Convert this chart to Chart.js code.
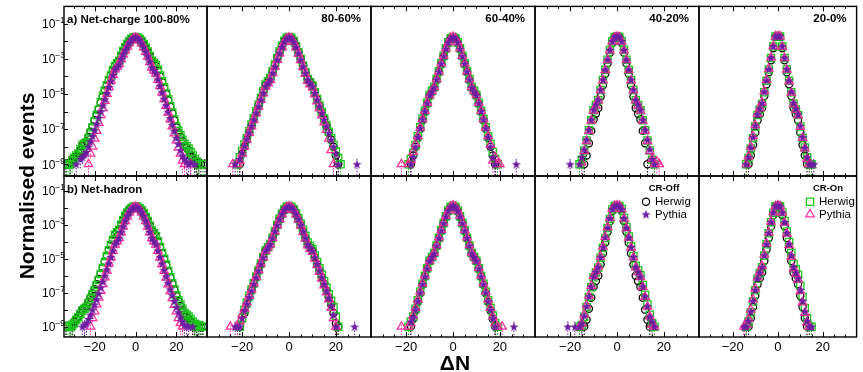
<!DOCTYPE html>
<html>
<head>
<meta charset="utf-8">
<title>Net-charge and net-hadron ΔN distributions</title>
<script src="https://cdn.jsdelivr.net/npm/chart.js"></script>
<style>
  html, body { margin: 0; padding: 0; background: #fff; }
  #wrap { position: relative; width: 863px; height: 372px; overflow: hidden; }
  #wrap canvas { position: absolute; left: 0; top: 0; }
</style>
</head>
<body>
<div id="wrap"></div>
<script>
const _ = null;  // empty bin

// ΔN axis (all panels)
const dnMin = -35, dnMax = 35;
const dnStart = [-35, -26, -22, -21, -16];   // first ΔN of the arrays in each column
const xTicks = [-30, -25, -20, -15, -10, -5, 0, 5, 10, 15, 20, 25, 30];
const xTickLabels = [-20, 0, 20];
// log axis, in decades
const yDecades = [-1, -2, -3, -4, -5, -6, -7, -8, -9];
const yLabelDecades = [-1, -3, -5, -7, -9];
const rowLogRange = [[-9.67, -0.01], [-9.61, -0.135]];

const centralities = ['100-80%', '80-60%', '60-40%', '40-20%', '20-0%'];
const rowNames = ['a) Net-charge', 'b) Net-hadron'];
const legendGroups = ['CR-Off', 'CR-On'];
const seriesNames = ['Herwig', 'Pythia', 'Herwig', 'Pythia'];

// log10(normalised events), one value per integer ΔN
// row a: net-charge
const a1HwOff = [_, -9.0, _, -8.9, -8.7, -8.6, -8.55, -8.35, -8.2, -7.95, -7.82, -7.7, -7.45, -7.15, -6.85, -6.5, -6.2, -5.85, -5.5, -5.15, -4.8, -4.5, -4.2, -3.92, -3.65, -3.38, -3.24, -3.1, -2.82, -2.56, -2.34, -2.15, -1.99, -1.87, -1.79,
  -1.76,
  -1.79, -1.87, -1.99, -2.16, -2.36, -2.6, -2.85, -3.12, -3.26, -3.4, -3.68, -4.0, -4.32, -4.65, -5.0, -5.35, -5.72, -6.1, -6.5, -6.9, -7.2, -7.45, -7.7, -7.95, -8.08, -8.2, -8.5, -8.6, -8.8, -9.0, -8.9, -9.0, _, -9.0, _];
const a1PyOff = [_, _, _, _, _, _, -9.0, _, -8.7, -8.6, -8.45, -8.3, -8.0, -7.7, -7.4, -7.05, -6.7, -6.35, -6.0, -5.65, -5.3, -4.95, -4.6, -4.25, -3.92, -3.6, -3.45, -3.3, -3.0, -2.74, -2.5, -2.28, -2.08, -1.92, -1.81,
  -1.77,
  -1.81, -1.93, -2.1, -2.32, -2.57, -2.85, -3.15, -3.48, -3.65, -3.82, -4.17, -4.53, -4.9, -5.27, -5.64, -6.0, -6.38, -6.75, -7.1, -7.5, -7.85, -8.2, -8.5, -8.7, -8.85, -9.0, -8.9, _, -9.0, _, _, _, _, _, _];
const a1HwOn = [_, -9.0, -9.0, -9.0, -8.8, -8.65, -8.5, -8.4, -8.15, -7.9, -7.82, -7.75, -7.5, -7.2, -6.9, -6.55, -6.2, -5.9, -5.45, -5.1, -4.8, -4.5, -4.2, -3.95, -3.65, -3.4, -3.25, -3.1, -2.8, -2.55, -2.33, -2.14, -1.98, -1.86, -1.78,
  -1.75,
  -1.78, -1.86, -1.98, -2.15, -2.35, -2.58, -2.83, -3.1, -3.22, -3.35, -3.62, -3.95, -4.28, -4.62, -4.97, -5.3, -5.7, -6.05, -6.45, -6.85, -7.1, -7.35, -7.6, -7.85, -7.97, -8.1, -8.3, -8.5, -8.7, -8.85, -9.0, _, -9.0, _, _];
const a1PyOn = [_, _, _, _, _, _, _, _, _, _, _, _, -9.0, -8.4, -8.0, -7.55, -7.1, -6.65, -6.2, -5.8, -5.4, -5.0, -4.62, -4.26, -3.92, -3.6, -3.45, -3.3, -3.02, -2.76, -2.52, -2.3, -2.1, -1.94, -1.83,
  -1.79,
  -1.83, -1.95, -2.12, -2.34, -2.6, -2.88, -3.18, -3.5, -3.67, -3.84, -4.2, -4.56, -4.93, -5.3, -5.68, -6.06, -6.45, -6.85, -7.25, -7.65, -8.05, -8.4, -8.8, -9.0, _, _, -9.0, _, _, _, _, _, _, _, _];

const a2HwOff = [_, _, _, _, _, -9.0, -8.4, -8.0, -7.6, -7.2, -6.8, -6.42, -6.03, -5.65, -5.26, -4.88, -4.5, -4.31, -4.12, -3.73, -3.35, -2.97, -2.6, -2.26, -1.98, -1.81,
  -1.76,
  -1.81, -1.99, -2.28, -2.63, -3.01, -3.39, -3.77, -4.15, -4.34, -4.53, -4.92, -5.3, -5.68, -6.06, -6.44, -6.82, -7.2, -7.6, -8.0, -8.5, -9.0, _, _, _, _, _, _, _, _];
const a2PyOff = [_, _, _, -9.0, _, -8.7, -8.35, -7.95, -7.57, -7.2, -6.82, -6.45, -6.07, -5.7, -5.32, -4.94, -4.56, -4.37, -4.18, -3.8, -3.42, -3.04, -2.67, -2.32, -2.02, -1.83,
  -1.77,
  -1.83, -2.02, -2.32, -2.67, -3.04, -3.42, -3.8, -4.18, -4.37, -4.56, -4.94, -5.32, -5.7, -6.08, -6.46, -6.84, -7.22, -7.6, -8.0, -8.4, -9.0, _, _, _, _, _, _, _, -9.0];
const a2HwOn = [_, _, _, _, -9.0, -8.6, -8.25, -7.88, -7.5, -7.12, -6.74, -6.36, -5.98, -5.6, -5.22, -4.84, -4.46, -4.27, -4.08, -3.7, -3.32, -2.95, -2.58, -2.25, -1.97, -1.8,
  -1.75,
  -1.8, -1.98, -2.27, -2.62, -3.0, -3.38, -3.76, -4.14, -4.33, -4.52, -4.9, -5.28, -5.65, -6.02, -6.4, -6.78, -7.15, -7.52, -7.9, -8.28, -8.65, -9.0, _, _, _, _, _, _, _];
const a2PyOn = [_, _, -9.0, _, -9.0, -8.8, -8.4, -8.0, -7.6, -7.22, -6.85, -6.48, -6.1, -5.72, -5.34, -4.96, -4.58, -4.39, -4.2, -3.82, -3.44, -3.06, -2.69, -2.34, -2.03, -1.84,
  -1.78,
  -1.84, -2.04, -2.35, -2.7, -3.08, -3.47, -3.86, -4.25, -4.45, -4.64, -5.03, -5.42, -5.82, -6.22, -6.62, -7.05, -7.55, -8.2, -9.0, _, _, _, _, _, _, _, _, _, _];

const a3HwOff = [_, _, _, _, -9.0, -8.5, -8.0, -7.5, -7.0, -6.5, -6.02, -5.55, -5.1, -4.88, -4.65, -4.2, -3.75, -3.3, -2.86, -2.44, -2.08, -1.84,
  -1.76,
  -1.84, -2.08, -2.44, -2.86, -3.3, -3.75, -4.2, -4.65, -4.88, -5.1, -5.55, -6.02, -6.5, -7.0, -7.5, -8.0, -8.5, -9.0, _, _, _, _, _, _, _, _, _];
const a3PyOff = [_, _, _, _, -9.0, -8.6, -8.0, -7.45, -6.95, -6.45, -5.98, -5.52, -5.07, -4.85, -4.62, -4.17, -3.72, -3.27, -2.84, -2.42, -2.06, -1.83,
  -1.76,
  -1.83, -2.06, -2.42, -2.84, -3.27, -3.72, -4.17, -4.62, -4.85, -5.07, -5.52, -5.98, -6.45, -6.95, -7.45, -8.0, -8.6, -9.0, _, _, _, _, _, _, _, _, -9.0];
const a3HwOn = [_, _, _, -9.0, -8.7, -8.35, -7.9, -7.4, -6.9, -6.4, -5.95, -5.5, -5.05, -4.82, -4.6, -4.15, -3.7, -3.25, -2.82, -2.4, -2.05, -1.82,
  -1.75,
  -1.82, -2.05, -2.4, -2.82, -3.25, -3.7, -4.15, -4.6, -4.82, -5.05, -5.5, -5.95, -6.42, -6.9, -7.4, -7.85, -8.3, -8.7, -9.0, _, _, _, _, _, _, _, _];
const a3PyOn = [-9.0, _, _, -9.0, -8.75, -8.3, -7.85, -7.4, -6.92, -6.44, -5.97, -5.51, -5.06, -4.84, -4.61, -4.16, -3.71, -3.26, -2.83, -2.41, -2.05, -1.82,
  -1.75,
  -1.82, -2.05, -2.41, -2.83, -3.26, -3.71, -4.16, -4.61, -4.84, -5.06, -5.51, -5.97, -6.44, -6.92, -7.4, -7.9, -8.8, -8.6, -9.0, -9.0, _, _, _, _, _, _, _];

const a4HwOff = [_, _, _, _, _, _, _, -9.0, -8.5, -7.8, -7.1, -6.45, -6.12, -5.8, -5.15, -4.5, -3.85, -3.25, -2.65, -2.1, -1.78,
  -1.73,
  -1.78, -2.1, -2.65, -3.25, -3.85, -4.5, -5.15, -5.8, -6.12, -6.45, -7.1, -7.8, -9.0, _, _, _, _, _];
const a4PyOff = [_, -9.0, _, _, _, -9.0, -8.6, -8.15, -7.6, -7.03, -6.46, -5.89, -5.6, -5.32, -4.75, -4.18, -3.6, -3.03, -2.48, -1.99, -1.74,
  -1.71,
  -1.74, -1.99, -2.48, -3.03, -3.6, -4.18, -4.75, -5.32, -5.6, -5.89, -6.46, -7.03, -7.6, -8.15, -8.7, -9.0, _, _];
const a4HwOn = [_, _, _, _, _, -9.0, -8.75, -8.22, -7.65, -7.07, -6.5, -5.92, -5.63, -5.35, -4.77, -4.2, -3.62, -3.05, -2.5, -2.0, -1.75,
  -1.72,
  -1.75, -2.0, -2.5, -3.05, -3.62, -4.2, -4.77, -5.35, -5.63, -5.92, -6.5, -7.07, -7.65, -8.22, -8.75, -9.0, _, _];
const a4PyOn = [_, _, _, _, _, _, -8.9, -8.25, -7.68, -7.1, -6.52, -5.95, -5.66, -5.37, -4.8, -4.22, -3.64, -3.07, -2.52, -2.02, -1.76,
  -1.73,
  -1.76, -2.02, -2.52, -3.07, -3.64, -4.22, -4.8, -5.37, -5.66, -5.95, -6.52, -7.1, -7.68, -8.25, -8.7, -9.0, -8.85, -9.0];

const a5HwOff = [_, _, _, -9.0, -8.5, -7.9, -7.2, -6.5, -6.15, -5.8, -5.12, -4.44, -3.76, -3.08, -2.4, -1.75,
  -1.71,
  -1.75, -2.4, -3.08, -3.76, -4.44, -5.12, -5.8, -6.15, -6.5, -7.2, -7.9, -8.5, -9.0, _, _, _, _];
const a5PyOff = [_, _, -9.0, -8.6, -8.05, -7.45, -6.8, -6.15, -5.82, -5.5, -4.86, -4.22, -3.58, -2.93, -2.28, -1.71,
  -1.69,
  -1.71, -2.28, -2.93, -3.58, -4.22, -4.86, -5.5, -5.82, -6.15, -6.8, -7.45, -8.05, -8.6, -9.0, -9.0, -9.0, _];
const a5HwOn = [_, _, -9.0, -8.65, -8.1, -7.5, -6.85, -6.2, -5.88, -5.55, -4.9, -4.25, -3.6, -2.95, -2.3, -1.72,
  -1.7,
  -1.72, -2.3, -2.95, -3.6, -4.25, -4.9, -5.55, -5.88, -6.2, -6.85, -7.5, -8.05, -8.6, -9.0, -9.0, _, _];
const a5PyOn = [_, _, -9.0, -8.55, -8.0, -7.4, -6.78, -6.13, -5.8, -5.48, -4.84, -4.2, -3.56, -2.92, -2.27, -1.72,
  -1.7,
  -1.72, -2.3, -2.96, -3.62, -4.28, -4.93, -5.58, -5.9, -6.22, -6.87, -7.5, -8.1, -8.7, -9.0, _, _, _];

// row b: net-hadron
const b1HwOff = [_, -9.0, _, -8.9, -9.0, -8.7, -8.55, -8.4, -8.2, -8.0, -7.9, -7.8, -7.55, -7.3, -7.05, -6.8, -6.5, -6.2, -5.87, -5.53, -5.18, -4.83, -4.49, -4.18, -3.88, -3.58, -3.43, -3.29, -3.0, -2.73, -2.49, -2.29, -2.14, -2.03, -1.96,
  -1.93,
  -1.96, -2.04, -2.16, -2.33, -2.54, -2.79, -3.07, -3.37, -3.52, -3.68, -4.0, -4.34, -4.68, -5.03, -5.38, -5.75, -6.12, -6.48, -6.84, -7.2, -7.5, -7.78, -8.05, -8.3, -8.4, -8.5, -8.7, -8.8, -9.0, -8.85, -9.0, -9.0, -9.0, _, _];
const b1PyOff = [_, _, _, _, _, _, _, _, _, -9.0, -8.9, -8.8, -8.55, -8.3, -8.0, -7.7, -7.38, -7.05, -6.7, -6.35, -6.0, -5.64, -5.27, -4.9, -4.52, -4.15, -3.97, -3.79, -3.43, -3.09, -2.77, -2.49, -2.26, -2.09, -1.98,
  -1.94,
  -1.98, -2.09, -2.26, -2.49, -2.77, -3.09, -3.43, -3.79, -3.97, -4.15, -4.52, -4.9, -5.28, -5.66, -6.04, -6.42, -6.8, -7.15, -7.5, -7.85, -8.15, -8.45, -8.7, -8.9, -8.95, -9.0, _, -9.0, _, _, _, _, _, _, _];
const b1HwOn = [_, -9.0, -9.0, -9.0, -8.9, -8.8, -8.6, -8.45, -8.25, -8.05, -7.95, -7.85, -7.6, -7.35, -7.1, -6.85, -6.55, -6.25, -5.9, -5.55, -5.2, -4.85, -4.5, -4.2, -3.9, -3.6, -3.45, -3.3, -3.0, -2.72, -2.48, -2.28, -2.13, -2.02, -1.95,
  -1.92,
  -1.95, -2.03, -2.15, -2.32, -2.53, -2.78, -3.05, -3.35, -3.5, -3.66, -3.98, -4.32, -4.66, -5.0, -5.35, -5.72, -6.1, -6.45, -6.8, -7.15, -7.45, -7.7, -7.95, -8.2, -8.3, -8.4, -8.55, -8.7, -8.85, -9.0, -8.9, -9.0, -9.0, _, _];
const b1PyOn = [_, _, _, _, _, _, _, _, _, _, _, _, _, -9.0, -8.5, -8.1, -7.7, -7.3, -6.9, -6.5, -6.1, -5.7, -5.3, -4.92, -4.54, -4.17, -3.98, -3.8, -3.45, -3.11, -2.79, -2.51, -2.28, -2.1, -1.99,
  -1.95,
  -1.99, -2.1, -2.28, -2.51, -2.79, -3.11, -3.45, -3.8, -3.98, -4.17, -4.55, -4.94, -5.33, -5.72, -6.12, -6.52, -6.92, -7.32, -7.72, -8.1, -8.5, -8.8, -9.0, _, _, _, _, _, _, _, _, _, _, _, _];

const b2HwOff = [_, _, _, _, _, -9.0, _, -8.2, -7.7, -7.28, -6.88, -6.48, -6.09, -5.7, -5.31, -4.92, -4.54, -4.35, -4.16, -3.78, -3.4, -3.02, -2.66, -2.36, -2.11, -1.96,
  -1.91,
  -1.96, -2.11, -2.36, -2.66, -3.02, -3.4, -3.78, -4.16, -4.35, -4.54, -4.92, -5.31, -5.7, -6.09, -6.48, -6.88, -7.28, -7.7, -8.2, -8.8, -9.0, _, _, _, _, _, _, _, _];
const b2PyOff = [_, _, _, -9.0, -9.0, -9.0, -8.5, -8.05, -7.65, -7.26, -6.87, -6.48, -6.09, -5.7, -5.31, -4.92, -4.53, -4.34, -4.15, -3.77, -3.39, -3.02, -2.67, -2.37, -2.12, -1.97,
  -1.92,
  -1.97, -2.12, -2.37, -2.67, -3.02, -3.39, -3.77, -4.15, -4.34, -4.53, -4.92, -5.31, -5.7, -6.09, -6.48, -6.88, -7.3, -7.75, -8.3, -9.0, _, _, _, _, _, _, _, -9.0, _];
const b2HwOn = [_, _, _, _, _, -9.0, -8.5, -8.0, -7.6, -7.2, -6.82, -6.44, -6.05, -5.66, -5.28, -4.9, -4.52, -4.33, -4.14, -3.76, -3.38, -3.0, -2.65, -2.35, -2.1, -1.95,
  -1.9,
  -1.95, -2.09, -2.33, -2.62, -2.95, -3.3, -3.67, -4.05, -4.24, -4.43, -4.81, -5.19, -5.57, -5.95, -6.33, -6.71, -7.09, -7.47, -7.85, -8.4, -9.0, _, _, _, _, _, _, _, _];
const b2PyOn = [_, -9.0, _, _, -9.0, -8.7, -8.3, -7.95, -7.58, -7.2, -6.82, -6.44, -6.06, -5.68, -5.3, -4.92, -4.54, -4.35, -4.16, -3.78, -3.4, -3.03, -2.68, -2.38, -2.13, -1.97,
  -1.92,
  -1.97, -2.13, -2.39, -2.7, -3.06, -3.44, -3.83, -4.22, -4.42, -4.61, -5.0, -5.39, -5.78, -6.18, -6.58, -6.98, -7.4, -7.9, -8.5, -9.0, _, _, _, _, _, _, _, _, _];

const b3HwOff = [_, _, _, _, -9.0, -8.55, -8.05, -7.55, -7.03, -6.53, -6.06, -5.6, -5.15, -4.93, -4.7, -4.25, -3.8, -3.36, -2.93, -2.53, -2.19, -1.96,
  -1.89,
  -1.96, -2.19, -2.53, -2.93, -3.36, -3.8, -4.25, -4.7, -4.93, -5.15, -5.6, -6.06, -6.53, -7.03, -7.55, -8.05, -8.55, -9.0, _, _, _, _, _, _, _, _, _];
const b3PyOff = [_, _, _, _, -8.7, -8.45, -8.0, -7.5, -6.99, -6.5, -6.04, -5.58, -5.13, -4.9, -4.68, -4.23, -3.78, -3.34, -2.91, -2.51, -2.18, -1.95,
  -1.88,
  -1.95, -2.18, -2.51, -2.91, -3.34, -3.78, -4.23, -4.68, -4.9, -5.13, -5.58, -6.04, -6.5, -6.99, -7.5, -8.0, -8.5, -9.0, _, _, _, _, _, _, _, -9.0, _];
const b3HwOn = [_, _, _, -9.0, -8.7, -8.4, -7.95, -7.45, -6.95, -6.47, -6.02, -5.57, -5.12, -4.9, -4.67, -4.22, -3.77, -3.33, -2.9, -2.5, -2.17, -1.95,
  -1.88,
  -1.95, -2.17, -2.5, -2.9, -3.33, -3.77, -4.22, -4.67, -4.9, -5.12, -5.57, -6.02, -6.47, -6.95, -7.45, -7.9, -8.35, -8.8, -9.0, _, _, _, _, _, _, _, _];
const b3PyOn = [-9.0, _, _, -9.0, -8.8, -8.35, -7.9, -7.42, -6.94, -6.46, -6.0, -5.55, -5.1, -4.88, -4.65, -4.2, -3.75, -3.31, -2.89, -2.49, -2.16, -1.94,
  -1.87,
  -1.94, -2.16, -2.49, -2.89, -3.31, -3.75, -4.2, -4.65, -4.88, -5.1, -5.55, -6.0, -6.46, -6.94, -7.42, -7.9, -8.4, -8.8, -9.0, _, -9.0, _, _, _, _, _, _];

const b4HwOff = [_, _, _, _, _, _, _, -9.0, -8.6, -7.95, -7.3, -6.65, -6.32, -6.0, -5.35, -4.7, -4.05, -3.42, -2.8, -2.2, -1.92,
  -1.89,
  -1.92, -2.2, -2.8, -3.42, -4.05, -4.7, -5.35, -6.0, -6.32, -6.65, -7.3, -8.0, -8.6, -9.0, _, _, _, _];
const b4PyOff = [-9.0, _, _, -9.0, _, -9.0, -8.8, -8.35, -7.8, -7.22, -6.64, -6.06, -5.77, -5.48, -4.9, -4.32, -3.74, -3.17, -2.62, -2.08, -1.89,
  -1.87,
  -1.89, -2.08, -2.62, -3.17, -3.74, -4.32, -4.9, -5.48, -5.77, -6.06, -6.64, -7.22, -7.8, -8.4, -8.7, -9.0, _, _];
const b4HwOn = [_, _, _, _, _, -9.0, -8.9, -8.42, -7.84, -7.26, -6.68, -6.1, -5.81, -5.52, -4.94, -4.36, -3.78, -3.2, -2.65, -2.1, -1.9,
  -1.88,
  -1.9, -2.08, -2.6, -3.14, -3.7, -4.27, -4.84, -5.41, -5.7, -5.98, -6.55, -7.12, -7.7, -8.3, -8.8, -9.0, _, _];
const b4PyOn = [_, _, _, _, _, -9.0, -8.8, -8.3, -7.75, -7.18, -6.6, -6.02, -5.73, -5.45, -4.88, -4.3, -3.72, -3.15, -2.6, -2.07, -1.89,
  -1.87,
  -1.89, -2.09, -2.64, -3.2, -3.77, -4.35, -4.93, -5.51, -5.8, -6.09, -6.67, -7.25, -7.83, -8.4, -8.9, -9.0, _, _];

const b5HwOff = [_, _, _, -9.0, -8.5, -7.85, -7.18, -6.5, -6.16, -5.82, -5.14, -4.46, -3.78, -3.1, -2.45, -1.95,
  -1.89,
  -1.95, -2.45, -3.1, -3.78, -4.46, -5.14, -5.82, -6.16, -6.5, -7.18, -7.85, -8.5, -9.0, _, _, _, _];
const b5PyOff = [_, -9.0, -9.0, -8.65, -8.1, -7.48, -6.83, -6.16, -5.82, -5.48, -4.8, -4.13, -3.48, -2.84, -2.28, -1.91,
  -1.87,
  -1.91, -2.28, -2.84, -3.48, -4.13, -4.8, -5.48, -5.82, -6.16, -6.83, -7.48, -8.1, -8.65, -9.0, -9.0, _, _];
const b5HwOn = [_, _, -9.0, -8.7, -8.15, -7.52, -6.86, -6.18, -5.84, -5.5, -4.82, -4.15, -3.5, -2.85, -2.3, -1.92,
  -1.88,
  -1.91, -2.25, -2.78, -3.4, -4.02, -4.66, -5.3, -5.62, -5.95, -6.6, -7.25, -7.9, -8.5, -9.0, -9.0, _, _];
const b5PyOn = [_, -9.0, -8.9, -8.55, -8.0, -7.4, -6.76, -6.1, -5.77, -5.43, -4.76, -4.1, -3.45, -2.82, -2.27, -1.91,
  -1.87,
  -1.91, -2.3, -2.88, -3.53, -4.2, -4.88, -5.56, -5.9, -6.24, -6.92, -7.58, -8.2, -8.75, -9.0, _, _, _];

// series order in each panel: Herwig CR-Off, Pythia CR-Off, Herwig CR-On, Pythia CR-On
const rows = [
  [[a1HwOff, a1PyOff, a1HwOn, a1PyOn], [a2HwOff, a2PyOff, a2HwOn, a2PyOn], [a3HwOff, a3PyOff, a3HwOn, a3PyOn],
   [a4HwOff, a4PyOff, a4HwOn, a4PyOn], [a5HwOff, a5PyOff, a5HwOn, a5PyOn]],
  [[b1HwOff, b1PyOff, b1HwOn, b1PyOn], [b2HwOff, b2PyOff, b2HwOn, b2PyOn], [b3HwOff, b3PyOff, b3HwOn, b3PyOn],
   [b4HwOff, b4PyOff, b4HwOn, b4PyOn], [b5HwOff, b5PyOff, b5HwOn, b5PyOn]]
];

// ---- layout & style ----
const W = 863, H = 372;
const colEdges = [64, 207, 371, 535, 699, 861];
const rowEdges = [3, 176, 337];
const FONT = '"Liberation Sans", Arial, Helvetica, sans-serif';
const purple = '#6d1ea3';

function makeStar(color, r) {
  const c = document.createElement('canvas');
  const s = Math.ceil(2 * r + 2);
  c.width = c.height = s;
  const g = c.getContext('2d');
  g.fillStyle = color;
  g.beginPath();
  for (let i = 0; i < 10; i++) {
    const ang = -Math.PI / 2 + i * Math.PI / 5;
    const rr = i % 2 ? r * 0.42 : r;
    g.lineTo(s / 2 + rr * Math.cos(ang), s / 2 + 0.5 + rr * Math.sin(ang));
  }
  g.closePath();
  g.fill();
  return c;
}
const starImg = makeStar(purple, 4.8);

const styles = [
  { color: '#000000', pointStyle: 'circle', radius: 3.6, borderWidth: 1.25 },
  { color: purple, pointStyle: starImg, radius: 4.8, borderWidth: 0 },
  { color: '#19c819', pointStyle: 'rect', radius: 5.1, borderWidth: 1.3 },
  { color: '#ff2d9b', pointStyle: 'triangle', radius: 4.9, borderWidth: 1.25 }
];
const drawOrder = [1, 3, 2, 0];   // first one ends up on top

function toPoints(logs, start) {
  const pts = [];
  logs.forEach((v, i) => { if (v !== null) pts.push({ x: start + i, y: Math.pow(10, v) }); });
  return pts;
}

function drawMarker(ctx, st, x, y) {
  ctx.save();
  ctx.strokeStyle = st.color;
  ctx.lineWidth = st.borderWidth;
  ctx.beginPath();
  if (st.pointStyle === 'circle') {
    ctx.arc(x, y, st.radius, 0, Math.PI * 2);
    ctx.stroke();
  } else if (st.pointStyle === 'rect') {
    const h = st.radius * Math.SQRT1_2;
    ctx.rect(x - h, y - h, 2 * h, 2 * h);
    ctx.stroke();
  } else if (st.pointStyle === 'triangle') {
    const r = st.radius;
    ctx.moveTo(x, y - r);
    ctx.lineTo(x + r * 0.866, y + r * 0.5);
    ctx.lineTo(x - r * 0.866, y + r * 0.5);
    ctx.closePath();
    ctx.stroke();
  } else {
    ctx.drawImage(st.pointStyle, x - st.pointStyle.width / 2, y - st.pointStyle.height / 2);
  }
  ctx.restore();
}

// frame, ticks, labels, error bars (ROOT look)
const rootPad = {
  id: 'rootPad',
  beforeDatasetsDraw(chart) {
    const { ctx, chartArea: a, scales: { y } } = chart;
    ctx.save();
    ctx.beginPath();
    ctx.rect(a.left, a.top, a.right - a.left, a.bottom - a.top);
    ctx.clip();
    ctx.setLineDash([1.5, 1.5]);
    ctx.lineWidth = 1;
    chart.data.datasets.forEach((ds, i) => {
      const meta = chart.getDatasetMeta(i);
      ctx.strokeStyle = ds.borderColor;
      meta.data.forEach((el, j) => {
        const v = ds.data[j].y;
        if (v > 4e-9) return;
        const err = Math.sqrt(v / 1e-9) * 1e-9;
        const top = y.getPixelForValue(v + err);
        const bot = v - err > 0 ? y.getPixelForValue(v - err) : a.bottom;
        ctx.beginPath();
        ctx.moveTo(el.x, top);
        ctx.lineTo(el.x, bot);
        ctx.stroke();
      });
    });
    ctx.restore();
  },
  afterDraw(chart, args, opts) {
    const { ctx, chartArea: a, scales: { x, y } } = chart;
    ctx.save();
    ctx.strokeStyle = '#000';
    ctx.fillStyle = '#000';
    ctx.lineWidth = 1;
    ctx.beginPath();
    xTicks.forEach(v => {
      const px = Math.round(x.getPixelForValue(v)) + 0.5;
      const len = v % 20 === 0 ? 5 : 2.5;
      ctx.moveTo(px, a.bottom); ctx.lineTo(px, a.bottom - len);
      ctx.moveTo(px, a.top); ctx.lineTo(px, a.top + len);
    });
    if (opts.yLabels) {
      yDecades.forEach(e => {
        const py = Math.round(y.getPixelForValue(Math.pow(10, e))) + 0.5;
        ctx.moveTo(a.left, py); ctx.lineTo(a.left + 4, py);
      });
    }
    ctx.stroke();
    ctx.lineWidth = 1.4;
    ctx.strokeRect(a.left, a.top, a.right - a.left, a.bottom - a.top);

    ctx.textAlign = 'left';
    ctx.textBaseline = 'alphabetic';
    if (opts.yLabels) {
      yLabelDecades.forEach(e => {
        const py = y.getPixelForValue(Math.pow(10, e));
        const sup = '\u2212' + (-e);
        ctx.font = '8.5px ' + FONT;
        const sw = ctx.measureText(sup).width;
        ctx.font = '12px ' + FONT;
        const bw = ctx.measureText('10').width;
        const right = a.left + 1;
        ctx.fillText('10', right - sw - bw, py + 4.3);
        ctx.font = '8.5px ' + FONT;
        ctx.fillText(sup, right - sw, py - 0.5);
      });
    }
    if (opts.xLabels) {
      ctx.font = '13px ' + FONT;
      ctx.textAlign = 'center';
      xTickLabels.forEach(v => {
        const txt = v < 0 ? '\u2212' + (-v) : String(v);
        ctx.fillText(txt, x.getPixelForValue(v), a.bottom + 14);
      });
    }
    if (opts.title) {
      ctx.font = 'bold 11.5px ' + FONT;
      if (opts.titleLeft) {
        ctx.textAlign = 'left';
        ctx.fillText(opts.title, a.left + 3, a.top + 16.5);
      } else {
        ctx.textAlign = 'right';
        ctx.fillText(opts.title, a.right - 10, a.top + 16);
      }
    }
    if (opts.legend) {
      const lg = opts.legend;
      ctx.font = 'bold 9.5px ' + FONT;
      ctx.textAlign = 'center';
      ctx.fillText(lg.group, a.left + 129, a.top + 14.5);
      ctx.font = '11.5px ' + FONT;
      ctx.textAlign = 'left';
      ctx.textBaseline = 'middle';
      lg.items.forEach((s, k) => {
        const cy = a.top + 25.7 + k * 12.6;
        drawMarker(ctx, styles[s], a.left + 111, cy);
        ctx.fillText(seriesNames[s], a.left + 120, cy + 0.5);
      });
      ctx.textBaseline = 'alphabetic';
    }
    if (opts.axisTitles) {
      ctx.font = 'bold 21px ' + FONT;
      ctx.textAlign = 'center';
      ctx.fillText('\u0394N', 455, 370);
      ctx.save();
      ctx.translate(33.5, 186);
      ctx.rotate(-Math.PI / 2);
      ctx.fillText('Normalised events', 0, 0);
      ctx.restore();
    }
    ctx.restore();
  }
};

const wrap = document.getElementById('wrap');

rows.forEach((row, r) => row.forEach((series, c) => {
  const canvas = document.createElement('canvas');
  canvas.width = W;
  canvas.height = H;
  wrap.appendChild(canvas);

  const datasets = drawOrder.map(s => ({
    label: seriesNames[s] + ' ' + legendGroups[s < 2 ? 0 : 1],
    data: toPoints(series[s], dnStart[c]),
    pointStyle: styles[s].pointStyle,
    pointRadius: styles[s].radius,
    pointBorderWidth: styles[s].borderWidth,
    pointBorderColor: styles[s].color,
    pointBackgroundColor: 'rgba(0,0,0,0)',
    borderColor: styles[s].color,
    showLine: false
  }));

  let title = null, titleLeft = false;
  if (c === 0) { title = r === 0 ? rowNames[0] + ' ' + centralities[0] : rowNames[1]; titleLeft = true; }
  else if (r === 0) title = centralities[c];

  let legend = null;
  if (r === 1 && c === 3) legend = { group: legendGroups[0], items: [0, 1] };
  if (r === 1 && c === 4) legend = { group: legendGroups[1], items: [2, 3] };

  new Chart(canvas, {
    type: 'scatter',
    data: { datasets },
    options: {
      responsive: false,
      animation: false,
      devicePixelRatio: 1,
      events: [],
      layout: { padding: { left: colEdges[c], right: W - colEdges[c + 1], top: rowEdges[r], bottom: H - rowEdges[r + 1] } },
      scales: {
        x: { type: 'linear', min: dnMin, max: dnMax, display: false },
        y: { type: 'logarithmic', min: Math.pow(10, rowLogRange[r][0]), max: Math.pow(10, rowLogRange[r][1]), display: false }
      },
      plugins: {
        legend: { display: false },
        tooltip: { enabled: false },
        rootPad: { yLabels: c === 0, xLabels: r === 1, title, titleLeft, legend, axisTitles: r === 1 && c === 0 }
      }
    },
    plugins: [rootPad]
  });
}));
</script>
</body>
</html>
